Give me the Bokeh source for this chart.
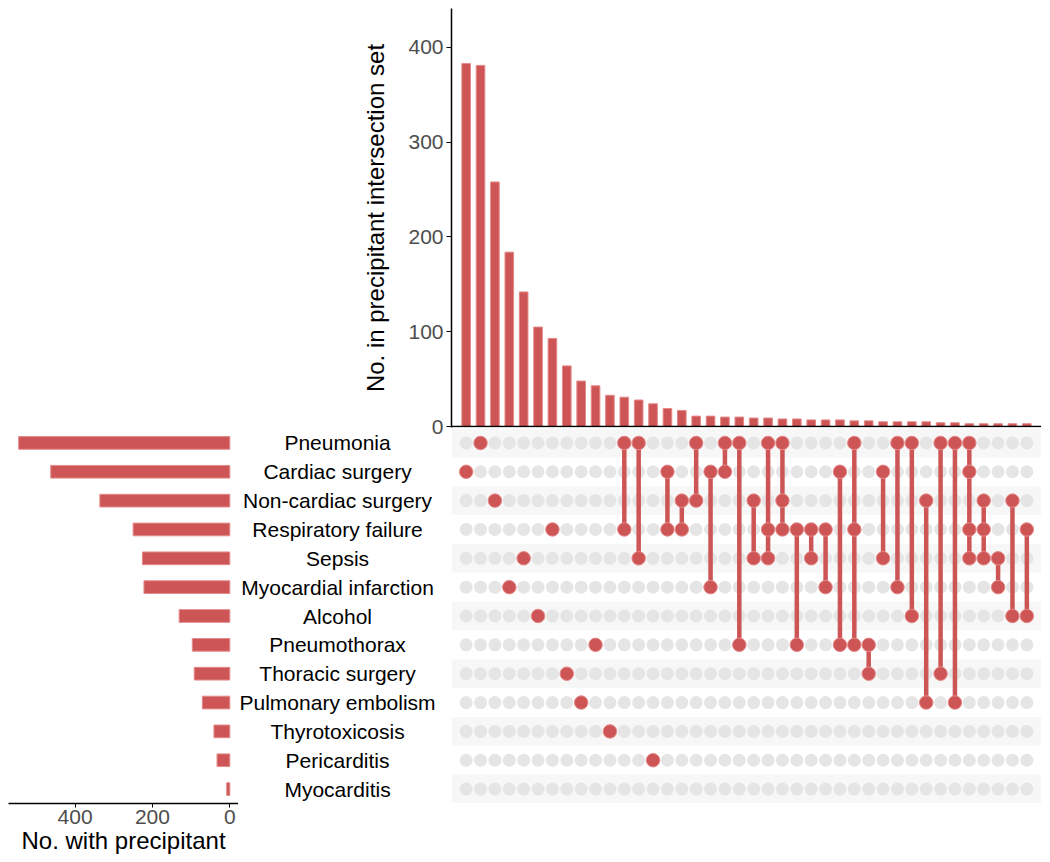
from bokeh.plotting import figure
from bokeh.layouts import row, column
from bokeh.models import Range1d, Span, FixedTicker
from bokeh.embed import file_html
from bokeh.resources import INLINE
from bokeh.core.properties import value

# ---------------- data ----------------
sets = ["Pneumonia", "Cardiac surgery", "Non-cardiac surgery", "Respiratory failure",
        "Sepsis", "Myocardial infarction", "Alcohol", "Pneumothorax",
        "Thoracic surgery", "Pulmonary embolism", "Thyrotoxicosis", "Pericarditis",
        "Myocarditis"]
set_sizes = [546, 463, 336, 250, 226, 222, 131, 97, 92, 71, 41, 33, 8]

intersection_counts = [383, 381, 258, 184, 142, 105, 93, 64, 48, 43,
                       33, 31, 28, 24, 19, 17, 11, 11, 10, 10,
                       9, 9, 8, 8, 7, 7, 7, 6, 6, 5,
                       5, 5, 5, 4, 4, 3, 3, 3, 3, 3]
intersection_members = [
    ["Cardiac surgery"],
    ["Pneumonia"],
    ["Non-cardiac surgery"],
    ["Myocardial infarction"],
    ["Sepsis"],
    ["Alcohol"],
    ["Respiratory failure"],
    ["Thoracic surgery"],
    ["Pulmonary embolism"],
    ["Pneumothorax"],
    ["Thyrotoxicosis"],
    ["Pneumonia", "Respiratory failure"],
    ["Pneumonia", "Sepsis"],
    ["Pericarditis"],
    ["Cardiac surgery", "Respiratory failure"],
    ["Non-cardiac surgery", "Respiratory failure"],
    ["Pneumonia", "Non-cardiac surgery"],
    ["Cardiac surgery", "Myocardial infarction"],
    ["Pneumonia", "Cardiac surgery"],
    ["Pneumonia", "Pneumothorax"],
    ["Non-cardiac surgery", "Sepsis"],
    ["Pneumonia", "Respiratory failure", "Sepsis"],
    ["Pneumonia", "Non-cardiac surgery", "Respiratory failure"],
    ["Respiratory failure", "Pneumothorax"],
    ["Respiratory failure", "Sepsis"],
    ["Respiratory failure", "Myocardial infarction"],
    ["Cardiac surgery", "Pneumothorax"],
    ["Pneumonia", "Respiratory failure", "Pneumothorax"],
    ["Pneumothorax", "Thoracic surgery"],
    ["Cardiac surgery", "Sepsis"],
    ["Pneumonia", "Myocardial infarction"],
    ["Pneumonia", "Alcohol"],
    ["Non-cardiac surgery", "Pulmonary embolism"],
    ["Pneumonia", "Thoracic surgery"],
    ["Pneumonia", "Pulmonary embolism"],
    ["Pneumonia", "Cardiac surgery", "Respiratory failure", "Sepsis"],
    ["Non-cardiac surgery", "Respiratory failure", "Sepsis"],
    ["Sepsis", "Myocardial infarction"],
    ["Non-cardiac surgery", "Alcohol"],
    ["Respiratory failure", "Alcohol"],
]
top_ticks = [0, 100, 200, 300, 400]
left_ticks = [0, 200, 400]

# ---------------- style ----------------
RED = "#CD5555"
EDGE = "#E58A8A"
GREY_DOT = "#E5E5E5"
STRIPE = "#F7F7F7"
FONT = "Liberation Sans"
TICK_COLOR = "#4D4D4D"

n_cols = len(intersection_counts)
n_rows = len(sets)
row_index = {s: i for i, s in enumerate(sets)}

PAD = 8
MAT_W = 590
MAT_H = 375
LEFT_W = 230
LABEL_W = 213
TOP_BOTTOM_BORDER = 14
OVERLAP = 13

x_range = Range1d(-1.02, n_cols + 0.02)
y_rows = Range1d(n_rows - 0.5, -0.5)


def style_common(p, transparent=False):
    p.outline_line_color = None
    p.xgrid.visible = False
    p.ygrid.visible = False
    if transparent:
        p.background_fill_color = None
        p.border_fill_color = None
    else:
        p.background_fill_color = "white"
        p.border_fill_color = None


# ---------------- top intersection bars ----------------
top = figure(frame_width=MAT_W, frame_height=419, x_range=x_range,
             y_range=Range1d(-1, 441), x_axis_location=None,
             output_backend="svg", toolbar_location=None,
             min_border_left=PAD + LEFT_W + LABEL_W, min_border_right=0,
             min_border_top=PAD, min_border_bottom=TOP_BOTTOM_BORDER)
style_common(top)
top.border_fill_color = "white"
top.vbar(x=list(range(n_cols)), top=intersection_counts, bottom=0, width=0.6,
         fill_color=RED, line_color=EDGE, line_width=1)
top.add_layout(Span(location=0, dimension="width", line_color="black", line_width=1.5))
ya = top.yaxis[0]
ya.ticker = FixedTicker(ticks=top_ticks)
ya.axis_label = "No. in precipitant intersection set"
ya.axis_label_text_font = FONT
ya.axis_label_text_font_size = "24px"
ya.axis_label_text_font_style = "normal"
ya.axis_label_text_color = "black"
ya.axis_label_standoff = 16
ya.major_label_text_font = FONT
ya.major_label_text_font_size = "21px"
ya.major_label_text_color = TICK_COLOR
ya.major_label_standoff = 3
ya.major_tick_in = 0
ya.major_tick_out = 5
ya.minor_tick_line_color = None
ya.axis_line_color = "black"
ya.axis_line_width = 1.5
ya.major_tick_line_color = "black"

# ---------------- left set-size bars ----------------
left = figure(frame_width=LEFT_W, frame_height=MAT_H,
              x_range=Range1d(572.3, -22.5), y_range=y_rows,
              y_axis_location=None, output_backend="svg", toolbar_location=None,
              min_border_left=PAD, min_border_right=0, min_border_top=0,
              min_border_bottom=0)
style_common(left, transparent=True)
left.hbar(y=list(range(n_rows)), left=0, right=set_sizes, height=0.44,
          fill_color=RED, line_color=EDGE, line_width=1)
xa = left.xaxis[0]
xa.ticker = FixedTicker(ticks=left_ticks)
xa.axis_label = "No. with precipitant"
xa.axis_label_text_font = FONT
xa.axis_label_text_font_size = "24px"
xa.axis_label_text_font_style = "normal"
xa.axis_label_text_color = "black"
xa.axis_label_standoff = 0
xa.major_label_text_font = FONT
xa.major_label_text_font_size = "21px"
xa.major_label_text_color = TICK_COLOR
xa.major_label_standoff = 2
xa.major_tick_in = 0
xa.major_tick_out = 4
xa.minor_tick_line_color = None
xa.axis_line_color = "black"
xa.axis_line_width = 1.5
xa.major_tick_line_color = "black"

# ---------------- set labels ----------------
labels = figure(frame_width=LABEL_W, frame_height=MAT_H,
                x_range=Range1d(0, 1), y_range=y_rows,
                x_axis_location=None, y_axis_location=None,
                output_backend="svg", toolbar_location=None,
                min_border_left=0, min_border_right=0, min_border_top=0,
                min_border_bottom=0)
style_common(labels, transparent=True)
labels.text(x=[0.465] * n_rows, y=list(range(n_rows)), text=sets,
            text_font=value(FONT), text_font_size="21px", text_color="black",
            text_align="center", text_baseline="middle")

# ---------------- matrix ----------------
mat = figure(frame_width=MAT_W, frame_height=MAT_H, x_range=x_range, y_range=y_rows,
             x_axis_location=None, y_axis_location=None,
             output_backend="svg", toolbar_location=None,
             min_border_left=0, min_border_right=0, min_border_top=0,
             min_border_bottom=0)
style_common(mat)
stripe_rows = [r for r in range(n_rows) if r % 2 == 0]
mat.hbar(y=stripe_rows, left=-1.02, right=n_cols + 0.02, height=1.0,
         fill_color=STRIPE, line_color=None)

gx, gy = [], []
for c in range(n_cols):
    for r in range(n_rows):
        gx.append(c)
        gy.append(r)
mat.scatter(x=gx, y=gy, size=13, fill_color=GREY_DOT, line_color=None)

sx0, sy0, sy1 = [], [], []
rx, ry = [], []
for c, members in enumerate(intersection_members):
    rows_ = [row_index[m] for m in members]
    for r in rows_:
        rx.append(c)
        ry.append(r)
    if len(rows_) > 1:
        sx0.append(c)
        sy0.append(min(rows_))
        sy1.append(max(rows_))
mat.segment(x0=sx0, y0=sy0, x1=sx0, y1=sy1, line_color=RED, line_width=4.5)
mat.scatter(x=rx, y=ry, size=13.5, fill_color=RED, line_color=EDGE, line_width=1)

bottom = row(left, labels, mat, margin=(-OVERLAP, 0, 0, 0))
layout = column(top, bottom)

open("out.html", "w").write(file_html(layout, INLINE))
